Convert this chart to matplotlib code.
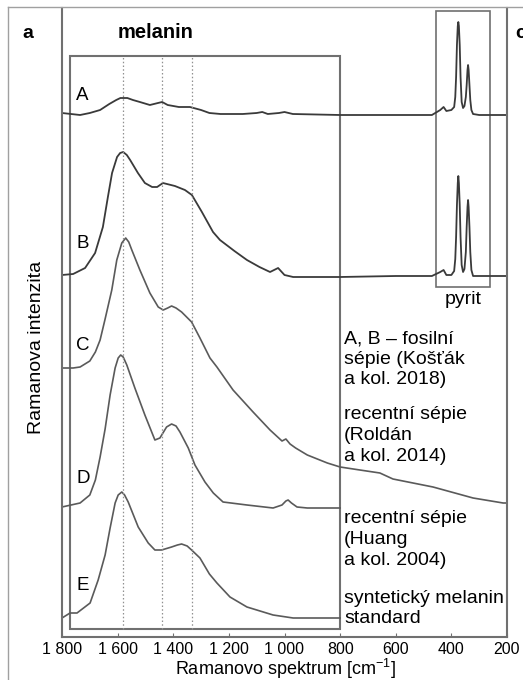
import numpy as np
import matplotlib
matplotlib.use("Agg")
import matplotlib.pyplot as plt
import matplotlib.patches as patches
from matplotlib.lines import Line2D

plt.rcParams["font.family"] = ["Liberation Sans", "DejaVu Sans"]
plt.rcParams["mathtext.default"] = "regular"

W, H = 523, 680

# spectra: wavenumber [cm-1] and intensity (a.u., stacked)
wn_a = [1800, 1735, 1700, 1663, 1630, 1605, 1590, 1580, 1565, 1545, 1520, 1484, 1455, 1440,
        1420, 1380, 1340, 1300, 1270, 1230, 1150, 1100, 1080, 1060, 1020, 1000, 970, 800,
        600, 470, 440, 428, 418, 400, 390, 386, 383, 380, 377, 375, 373, 370, 367, 363,
        358, 353, 348, 345, 342, 340, 338, 335, 332, 328, 322, 300, 200]
int_a = [524, 522, 524, 527, 533, 537, 539, 539, 539, 537, 535, 532, 534, 535,
         532, 530, 530, 527, 524, 523, 523, 524, 525, 523, 524, 525, 523, 522,
         522, 522, 527, 530, 526, 527, 530, 540, 560, 592, 611, 615, 611, 592, 560, 535,
         529, 531, 540, 552, 567, 572, 567, 552, 537, 527, 523, 522, 522]

wn_b = [1800, 1760, 1717, 1681, 1653, 1635, 1620, 1602, 1591, 1580, 1567, 1555, 1527, 1502,
        1476, 1458, 1437, 1394, 1358, 1333, 1297, 1257, 1232, 1180, 1135, 1090, 1052, 1023,
        1000, 969, 800, 600, 470, 440, 428, 418, 400, 390, 386, 383, 380, 377, 375, 373,
        370, 367, 363, 358, 353, 348, 345, 342, 340, 338, 335, 332, 328, 322, 200]
int_b = [362, 363, 369, 384, 410, 440, 464, 480, 484, 485, 482, 477, 464, 454,
         450, 450, 454, 451, 447, 442, 425, 405, 397, 386, 377, 370, 365, 369,
         362, 360, 360, 361, 361, 365, 367, 362, 362, 366, 378, 400, 432, 454, 461, 454,
         432, 400, 372, 365, 368, 385, 410, 430, 437, 430, 410, 385, 367, 361, 361]

wn_c = [1800, 1760, 1735, 1700, 1680, 1663, 1645, 1621, 1603, 1585, 1571, 1560, 1549, 1520,
        1484, 1454, 1436, 1420, 1406, 1390, 1370, 1334, 1304, 1268, 1243, 1185, 1113, 1052,
        1009, 995, 980, 960, 918, 846, 800, 729, 657, 610, 466, 322, 214, 200]
int_c = [269, 269, 270, 276, 285, 297, 318, 347, 377, 394, 399, 395, 387, 367,
         344, 330, 327, 329, 331, 329, 325, 315, 299, 279, 270, 247, 225, 207,
         196, 198, 193, 189, 182, 174, 170, 167, 164, 158, 150, 139, 134, 134]

wn_d = [1800, 1735, 1700, 1680, 1663, 1645, 1627, 1609, 1598, 1589, 1580, 1567, 1538, 1502,
        1466, 1448, 1424, 1406, 1390, 1376, 1346, 1322, 1286, 1256, 1221, 1135, 1041, 1009,
        995, 987, 975, 955, 918, 800]
int_d = [130, 134, 142, 157, 180, 208, 242, 269, 279, 282, 280, 272, 249, 222,
         197, 199, 210, 213, 211, 205, 189, 172, 155, 144, 135, 132, 129, 132,
         136, 137, 134, 130, 129, 129]

wn_e = [1800, 1771, 1746, 1699, 1670, 1645, 1627, 1609, 1598, 1585, 1575, 1562, 1526, 1490,
        1466, 1442, 1406, 1385, 1370, 1350, 1334, 1304, 1270, 1243, 1196, 1135, 1041, 969, 800]
int_e = [19, 24, 24, 34, 57, 82, 109, 134, 142, 145, 142, 135, 110, 94,
         87, 87, 90, 92, 93, 91, 87, 79, 63, 54, 40, 30, 22, 19, 19]

curve_labels = ["A", "B", "C", "D", "E"]
label_y = [100, 248, 350, 483, 590]  # baselines in px

ref_lines = [1581, 1440, 1333]
melanin_box = (1771, 800, 8, 581)
pyrit_box = (455, 261, 350, 626)

xticks = [1800, 1600, 1400, 1200, 1000, 800, 600, 400, 200]
xtick_labels = ["1 800", "1 600", "1 400", "1 200", "1 000", "800", "600", "400", "200"]

notes = [
    ("A, B – fosilní", 343), ("sépie (Košťák", 364), ("a kol. 2018)", 384),
    ("recentní sépie", 419), ("(Roldán", 440), ("a kol. 2014)", 461),
    ("recentní sépie", 523), ("(Huang", 544), ("a kol. 2004)", 565),
    ("syntetický melanin", 603), ("standard", 623),
]

fig = plt.figure(figsize=(W / 100, H / 100), dpi=100)
ax = fig.add_axes([62 / W, (H - 637) / H, 445 / W, (637 - 8) / H])
ax.set_xlim(1800, 200)
ax.set_ylim(0, 629)

frame_c = "#707070"

ax.plot(wn_a, int_a, color="#3a3a3a", lw=1.3)
ax.plot(wn_b, int_b, color="#3a3a3a", lw=1.3)
ax.plot(wn_c, int_c, color="#5a5a5a", lw=1.2)
ax.plot(wn_d, int_d, color="#5a5a5a", lw=1.2)
ax.plot(wn_e, int_e, color="#5a5a5a", lw=1.2)

x0, x1, y0, y1 = melanin_box
ax.add_patch(patches.Rectangle((x0, y0), x1 - x0, y1 - y0, fill=False,
                               edgecolor=frame_c, lw=1.5))
x0, x1, y0, y1 = pyrit_box
ax.add_patch(patches.Rectangle((x0, y0), x1 - x0, y1 - y0, fill=False,
                               edgecolor=frame_c, lw=1.2))
for xv in ref_lines:
    ax.plot([xv, xv], [melanin_box[2], melanin_box[3]], color="#909090",
            lw=0.9, ls=(0, (1.2, 1.8)))

for s in ["left", "right", "bottom"]:
    ax.spines[s].set_color(frame_c)
    ax.spines[s].set_linewidth(1.5)
ax.spines["top"].set_visible(False)

ax.set_xticks(xticks)
ax.set_xticklabels(xtick_labels, fontsize=11.5)
ax.tick_params(axis="x", direction="in", length=3, color=frame_c, pad=3.5)
ax.set_yticks([])


def ftext(x, y, s, **kw):
    fig.text(x / W, 1 - y / H, s, **kw)


# outer frame of the whole figure panel
fig.add_artist(Line2D([8 / W, 1], [1 - 7 / H, 1 - 7 / H], color="#a0a0a0", lw=1.0))
fig.add_artist(Line2D([8 / W, 8 / W], [0, 1 - 7 / H], color="#a0a0a0", lw=1.0))

ftext(22, 38, "a", fontsize=14, fontweight="bold", va="baseline")
ftext(156, 38, "melanin", fontsize=14.5, fontweight="bold", ha="center", va="baseline")
ftext(515, 38, "c", fontsize=14, fontweight="bold", va="baseline")
ftext(463, 304, "pyrit", fontsize=14, ha="center", va="baseline")

for lab, yb in zip(curve_labels, label_y):
    ftext(76, yb, lab, fontsize=13.5, va="baseline")

for s, yb in notes:
    ftext(344, yb, s, fontsize=14, va="baseline")

ftext(37, 347, "Ramanova intenzita", fontsize=14, rotation=90, ha="center", va="center")
ftext(285, 675, "Ramanovo spektrum [cm$^{-1}$]", fontsize=13, ha="center", va="baseline")

fig.savefig("out.png", dpi=100)
